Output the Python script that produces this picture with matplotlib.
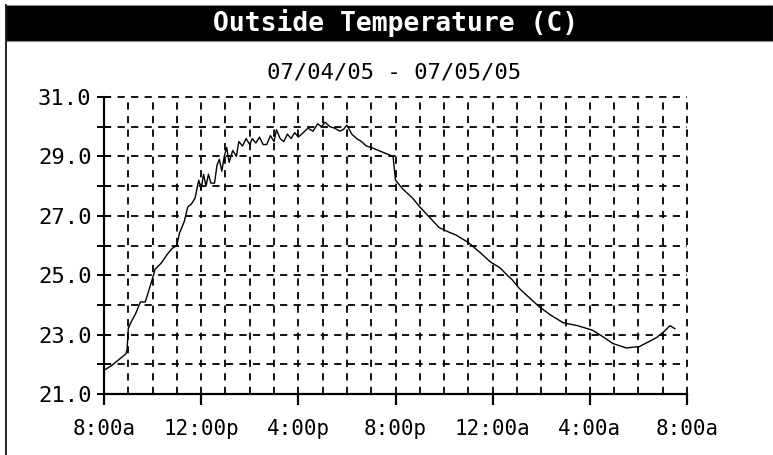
import matplotlib
matplotlib.use("Agg")
import matplotlib.pyplot as plt
from matplotlib.patches import Rectangle
from matplotlib.lines import Line2D

# hours since 8:00a on 07/04/05, temperature in C
hours = [0.0, 0.3, 0.6, 0.9, 0.95, 1.0, 1.1, 1.3, 1.5, 1.7, 1.85, 2.0, 2.1, 2.35,
         2.6, 2.8, 3.0, 3.1, 3.3, 3.45, 3.6, 3.75, 3.9, 4.0, 4.1, 4.2, 4.3, 4.4,
         4.55, 4.65, 4.75, 4.85, 4.95, 5.05, 5.15, 5.3, 5.45, 5.55, 5.7, 5.85,
         6.0, 6.1, 6.25, 6.4, 6.55, 6.7, 6.85, 7.0, 7.1, 7.25, 7.4, 7.55, 7.7,
         7.85, 8.0, 8.2, 8.4, 8.6, 8.8, 8.95, 9.1, 9.3, 9.5, 9.7, 9.85, 10.0,
         10.2, 10.4, 10.6, 10.8, 11.0, 11.3, 11.6, 11.9, 12.0, 12.3, 12.7, 13.0,
         13.4, 13.8, 14.2, 14.5, 15.0, 15.5, 15.9, 16.3, 16.6, 16.8, 17.1, 17.5,
         17.9, 18.4, 18.9, 19.5, 20.1, 20.5, 20.95, 21.5, 22.05, 22.4, 22.75,
         23.05, 23.3, 23.5]
temps = [21.8, 21.95, 22.15, 22.35, 22.5, 23.2, 23.4, 23.7, 24.1, 24.1, 24.5, 24.9,
         25.2, 25.4, 25.7, 25.9, 26.0, 26.4, 26.8, 27.3, 27.4, 27.6, 28.2, 27.9,
         28.4, 28.0, 28.4, 28.1, 28.1, 28.7, 28.9, 28.5, 29.0, 29.3, 28.8, 29.2,
         29.0, 29.5, 29.35, 29.6, 29.4, 29.6, 29.45, 29.65, 29.4, 29.4, 29.7,
         29.5, 29.9, 29.6, 29.5, 29.75, 29.6, 29.8, 29.65, 29.8, 29.95, 29.85,
         30.1, 30.0, 30.15, 30.0, 29.95, 29.85, 29.9, 30.05, 29.75, 29.6, 29.5,
         29.35, 29.3, 29.2, 29.1, 29.0, 28.2, 27.9, 27.6, 27.3, 26.95, 26.6,
         26.45, 26.35, 26.1, 25.75, 25.45, 25.25, 25.0, 24.85, 24.55, 24.25,
         23.95, 23.65, 23.4, 23.3, 23.15, 22.95, 22.7, 22.55, 22.6, 22.75, 22.9,
         23.1, 23.3, 23.2]

xtick_pos = [0, 4, 8, 12, 16, 20, 24]
xtick_labels = ["8:00a", "12:00p", "4:00p", "8:00p", "12:00a", "4:00a", "8:00a"]
ytick_pos = [21, 23, 25, 27, 29, 31]
ytick_labels = ["21.0", "23.0", "25.0", "27.0", "29.0", "31.0"]

mono = "DejaVu Sans Mono"

fig = plt.figure(figsize=(7.73, 4.55), dpi=100)
ax = fig.add_axes([104/773, 1 - 394/455, 583/773, 297/455])

# title bar and left frame line
fig.patches.append(Rectangle((6/773, 1 - 41/455), 1 - 6/773, 36/455,
                             transform=fig.transFigure, facecolor="black",
                             edgecolor="#888888", lw=0.8))
fig.lines.append(Line2D([6.5/773, 6.5/773], [0, 1 - 5/455], transform=fig.transFigure,
                        color="black", lw=1.2))
fig.text(0.512, 1 - 23/455, "Outside Temperature (C)", color="white", ha="center",
         va="center", fontsize=19, fontweight="bold", family=mono)
fig.text(0.51, 1 - 72/455, "07/04/05 - 07/05/05", ha="center", va="center",
         fontsize=16, family=mono)

ax.plot(hours, temps, color="black", lw=1.0)

ax.set_xlim(0, 24)
ax.set_ylim(21, 31)

# dashed grid: every hour and every degree
dash = dict(color="black", lw=1.3, linestyle=(0, (4, 3.5)))
for h in range(1, 25):
    ax.axvline(h, clip_on=False, **dash)
for t in range(22, 32):
    ax.axhline(t, clip_on=False, **dash)

for s in ["top", "right"]:
    ax.spines[s].set_visible(False)
for s in ["left", "bottom"]:
    ax.spines[s].set_linewidth(1.6)

ax.set_xticks(xtick_pos)
ax.set_xticklabels(xtick_labels, family=mono, fontsize=15)
ax.set_yticks(ytick_pos)
ax.set_yticklabels(ytick_labels, family=mono, fontsize=16)
ax.set_yticks(range(22, 31, 2), minor=True)
ax.tick_params(axis="x", direction="out", length=8, width=1.6, pad=10)
ax.tick_params(axis="y", which="both", direction="inout", length=10, width=1.4, pad=4)

fig.savefig("out.png", dpi=100)
